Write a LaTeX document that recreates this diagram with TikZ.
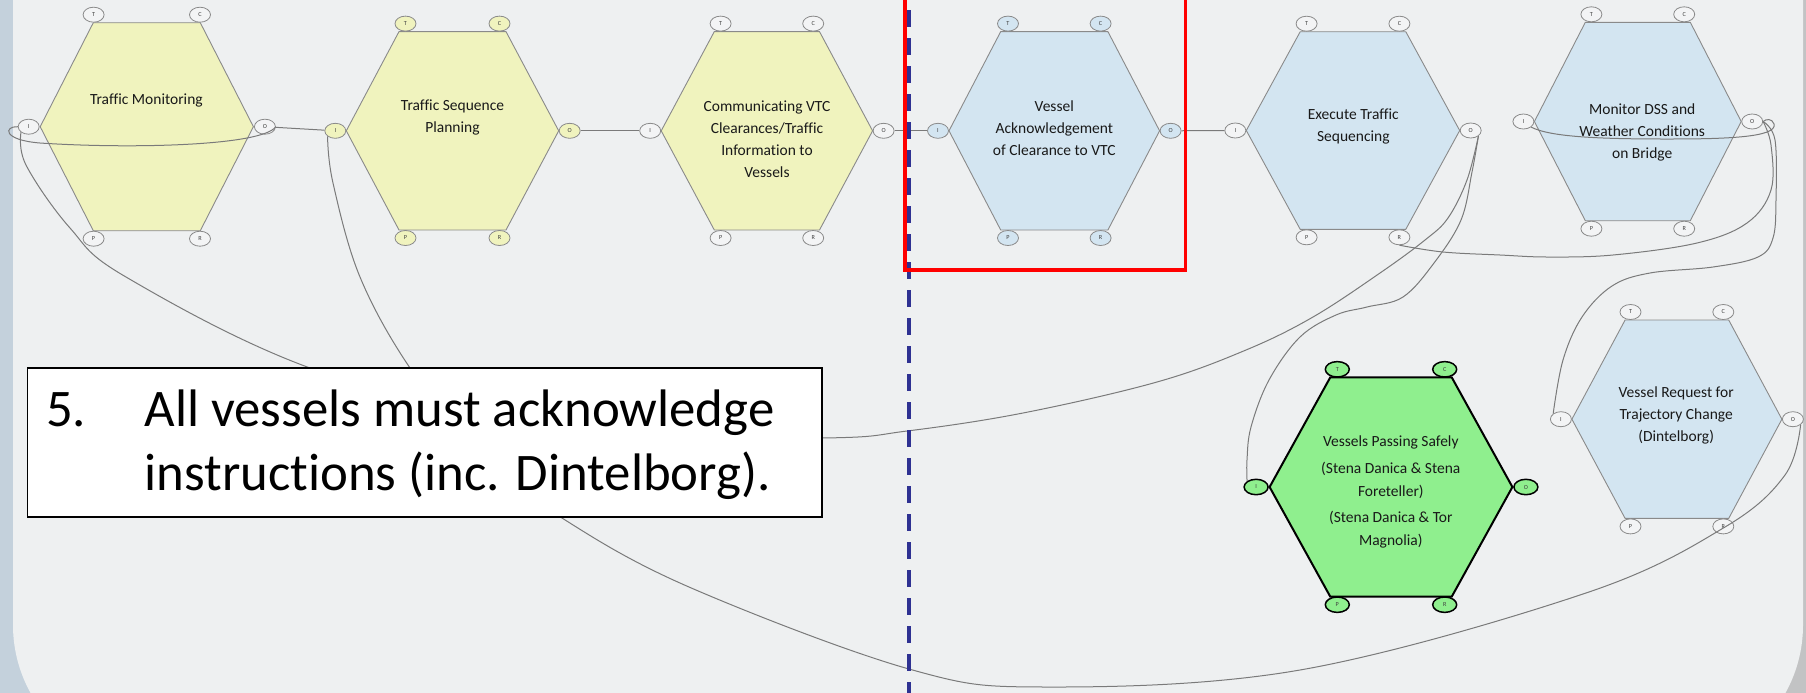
\documentclass[tikz,border=0pt]{standalone}
\usepackage{fontspec}
\setmainfont{Carlito}[Ligatures=NoCommon]
\usetikzlibrary{shapes.geometric}
\definecolor{bgin}{HTML}{EEF0F1}
\definecolor{bgleft}{HTML}{C4D1DC}
\definecolor{bgright}{HTML}{C2C3C4}
\definecolor{yel}{HTML}{F0F3BE}
\definecolor{blu}{HTML}{D3E5F1}
\definecolor{grn}{HTML}{8FEF8E}
\definecolor{hexline}{HTML}{8A8A8A}
\definecolor{connline}{HTML}{7A7A7A}
\definecolor{portw}{HTML}{F3F4F5}
\definecolor{navy}{HTML}{2E3192}
\tikzset{
  hexY/.style={fill=yel, draw=hexline, line width=0.45pt},
  hexB/.style={fill=blu, draw=hexline, line width=0.45pt},
  hexG/.style={fill=grn, draw=black, line width=1pt},
  portbase/.style={ellipse, inner sep=0pt, minimum width=10.5pt, minimum height=7.5pt,
    font=\fontsize{3.1}{3.1}\selectfont, text=black!75},
  portW/.style={portbase, draw=hexline, line width=0.4pt, fill=portw},
  portY/.style={portbase, draw=hexline, line width=0.4pt, fill=yel},
  portB/.style={portbase, draw=hexline, line width=0.4pt, fill=blu},
  portG/.style={portbase, draw=black, line width=0.75pt, fill=grn, minimum width=12pt, minimum height=7.7pt},
  hexYW/.style={hexY}, portYW/.style={portW},
  hexYY/.style={hexY}, portYY/.style={portY},
  hexBB/.style={hexB}, portBB/.style={portB},
  hexBW/.style={hexB}, portBW/.style={portW},
  hexGG/.style={hexG}, portGG/.style={portG},
  hextext/.style={font=\fontsize{7.75}{11}\selectfont, align=center, inner sep=0pt, text=black!90},
  hextextg/.style={font=\fontsize{7.75}{11.3}\selectfont, align=center, inner sep=0pt, text=black!90},
  conn/.style={draw=connline, line width=0.5pt},
  notebox/.style={rectangle, fill=white, draw=black, line width=0.8pt, minimum width=397.2pt, minimum height=74.35pt, inner sep=0pt},
  notetext/.style={font=\fontsize{26.4}{30}\selectfont, inner sep=0pt, text=black},
  redbox/.style={draw=red, line width=1.75pt},
  navydash/.style={draw=navy, line width=2pt, dash pattern=on 8.25pt off 5.75pt}
}
% #1 name, #2 cx, #3 cy, #4 half width, #5 top half width, #6 half height,
% #7 port half spacing, #8 style suffix, #9 I/O offset
\newcommand\myhex[9]{%
  \path[hex#8] (#2-#4,#3) -- (#2-#5,#3-#6) -- (#2+#5,#3-#6) -- (#2+#4,#3)
     -- (#2+#5,#3+#6) -- (#2-#5,#3+#6) -- cycle;
  \node[port#8] (#1T) at (#2-#7,#3-#6-8) {T};
  \node[port#8] (#1C) at (#2+#7,#3-#6-8) {C};
  \node[port#8] (#1I) at (#2-#4-#9,#3) {I};
  \node[port#8] (#1O) at (#2+#4+#9,#3) {O};
  \node[port#8] (#1P) at (#2-#7,#3+#6+8) {P};
  \node[port#8] (#1R) at (#2+#7,#3+#6+8) {R};
}
\begin{document}
\begin{tikzpicture}[x=0.5pt,y=-0.5pt]
\useasboundingbox (0,0) rectangle (1806,692);
\clip (0,0) rectangle (1806,692);
% background
\shade[left color=bgleft, right color=bgright] (0,0) rectangle (1806,692);
\fill[bgin, rounded corners=70pt] (13,-300) rectangle (1803,765);

% hexagons with ports
\myhex{h1}{146.8}{126.7}{106.6}{53.5}{104}{53.2}{YW}{11.5}
\myhex{h2}{452.5}{130.8}{106.2}{53.5}{99.2}{47}{YY}{11}
\myhex{h3}{766.9}{130.8}{105.7}{52.6}{99.2}{46.3}{YW}{11}
\myhex{h4}{1054.3}{130.8}{105.3}{53.6}{99.2}{46.3}{BB}{11}
\myhex{h5}{1353}{130.5}{106.7}{52.8}{98.8}{46.4}{BW}{11}
\myhex{h6}{1637.8}{121.5}{103.4}{52.5}{99.2}{46.4}{BW}{11}
\myhex{h7}{1391}{487}{121.4}{60.7}{109.7}{53.7}{GG}{13.5}
\myhex{h8}{1676.9}{419.2}{105}{51.8}{99.2}{46.4}{BW}{11}

% hexagon texts
\node[hextext] (h1) at (146.4,100) {Traffic Monitoring};
\node[hextext] (h2) at (452.5,117) {Traffic Sequence\\Planning};
\node[hextext] (h3) at (767,139) {Communicating VTC\\Clearances/Traffic\\Information to\\Vessels};
\node[hextext] (h4) at (1054.3,128) {Vessel\\Acknowledgement\\of Clearance to VTC};
\node[hextext] (h5) at (1353.3,126.3) {Execute Traffic\\Sequencing};
\node[hextext] (h6) at (1642.2,132.5) {Monitor DSS and\\Weather Conditions\\on Bridge};
\node[hextextg] (h7) at (1390.8,492) {Vessels Passing Safely\\[2pt](Stena Danica \& Stena\\Foreteller)\\[2pt](Stena Danica \& Tor\\Magnolia)};
\node[hextext] (h8) at (1676.2,415.2) {Vessel Request for\\Trajectory Change\\(Dintelborg)};

% straight connectors
\draw[conn] (h1O) -- (h2I);
\draw[conn] (h2O) -- (h3I);
\draw[conn] (h3O) -- (h4I);
\draw[conn] (h4O) -- (h5I);

% loops
\draw[conn] (h1I.west) .. controls (4,126) and (2,140) .. (40,143)
   .. controls (130,149) and (262,146) .. (h1O.east);
\draw[conn] (h6I.south east) .. controls (1550,137) and (1600,139) .. (1667,139)
   .. controls (1720,139) and (1778,138) .. (1774,124)
   .. controls (1772,118) and (1766,119) .. (h6O.east);

% long curves
\draw[conn] plot[smooth, tension=0.6] coordinates {(h1I.south west) (26,165) (70,228) (126,277) (310,368) (560,436) (822,438) (907,431) (1023,413) (1157,382) (1246,350) (1313,317) (1380,273) (1425,240) (1448,218) (1467,180) (h5O.south east)};
\draw[conn] plot[smooth, tension=0.6] coordinates {(h2I.south west) (333,183) (360,277) (410,368) (480,455) (562,518) (689,587) (909,669) (1046,687) (1300,670) (1586,593) (1725,527) (1785,475) (h8O.south east)};
\draw[conn] plot[smooth, tension=0.6] coordinates {(h5O.south east) (1472,172) (1461,220) (1434,263) (1403,297) (1367,307) (1336,315) (1300,337) (1269,380) (1251,427) (1247,460) (h7I.north west)};
\draw[conn] plot[smooth, tension=0.6] coordinates {(h5R.south) (1443,252) (1500,255) (1548,257) (1613,255) (1697,243) (1747,223) (1771,190) (1771,145) (h6O.east)};
\draw[conn] plot[smooth, tension=0.6] coordinates {(h6O.east) (1775,140) (1776,200) (1773,238) (1758,257) (1713,267) (1650,273) (1612,286) (1582,317) (1563,360) (h8I.north west)};

% note box
\node[notebox] (note) at (424.8,442.35) {};
\node[notetext, anchor=base west] (n5) at (45.8,426.7) {5.};
\node[notetext, anchor=base west] (n1) at (144.2,426.7) {All vessels must acknowledge};
\node[notetext, anchor=base west] (n2) at (144.2,490) {instructions (inc. Dintelborg).};

% dashed divider and red highlight
\draw[navydash] (909,10) -- (909,700);
\draw[redbox] (905,-10) rectangle (1185.5,270);
\end{tikzpicture}
\end{document}
